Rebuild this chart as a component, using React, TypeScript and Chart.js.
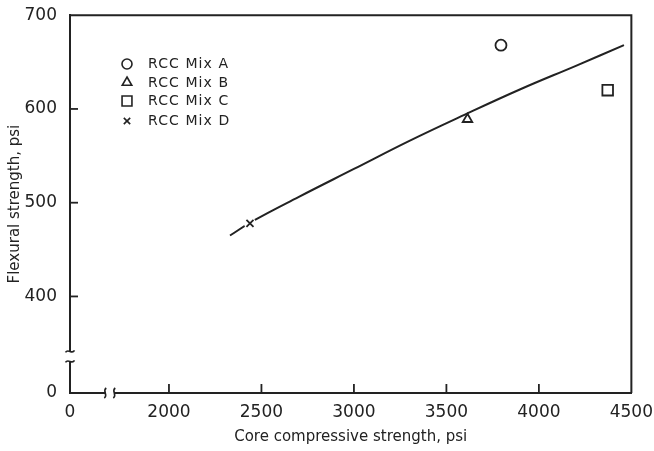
import React, { useEffect, useRef } from 'react';
import { Chart, registerables } from 'chart.js';

Chart.register(...registerables);

// ---- axis data ----
const X_MIN = 1465; // position labelled "0" after the axis break
const X_MAX = 4500;
const Y_MIN = 297; // position labelled "0" after the axis break
const Y_MAX = 700;
const xTickValues = [1465, 2000, 2500, 3000, 3500, 4000, 4500];
const yTickValues = [297, 400, 500, 600, 700];
const X_BREAK = 1680;
const Y_BREAK = 336;

// ---- series data ----
const mixLabels = ['RCC Mix A', 'RCC Mix B', 'RCC Mix C', 'RCC Mix D'];
const mixStyles = ['circle', 'triangle', 'rect', 'crossRot'];
const mixX = [3795, 3614, 4372, 2438];
const mixY = [668, 589, 620, 478];

const curveX = [2330, 2450, 2700, 3000, 3300, 3600, 3900, 4200, 4460];
const curveY = [465, 480, 506, 536, 566, 594, 621, 646, 668];

const INK = '#222222';
const FONT = 'DejaVu Sans';
const markerRadius: Record<string, number> = { circle: 5.5, triangle: 5.5, rect: 7.5, crossRot: 5 };

function drawMarker(ctx: CanvasRenderingContext2D, style: string, x: number, y: number, r: number) {
  ctx.beginPath();
  if (style === 'circle') {
    ctx.arc(x, y, r, 0, Math.PI * 2);
  } else if (style === 'triangle') {
    ctx.moveTo(x, y - r);
    ctx.lineTo(x + r * 0.866, y + r * 0.5);
    ctx.lineTo(x - r * 0.866, y + r * 0.5);
    ctx.closePath();
  } else if (style === 'rect') {
    const s = r * Math.SQRT1_2;
    ctx.rect(x - s, y - s, 2 * s, 2 * s);
  } else {
    const s = r * Math.SQRT1_2;
    ctx.moveTo(x - s, y - s);
    ctx.lineTo(x + s, y + s);
    ctx.moveTo(x + s, y - s);
    ctx.lineTo(x - s, y + s);
  }
  ctx.stroke();
}

const decorPlugin = {
  id: 'decor',
  afterDraw(chart: any) {
    const { ctx, chartArea: a, scales } = chart;
    const xs = scales.x;
    const ys = scales.y;
    ctx.save();
    ctx.strokeStyle = INK;
    ctx.lineCap = 'butt';
    // frame top & right
    ctx.lineWidth = 2;
    ctx.beginPath();
    ctx.moveTo(a.left, a.top);
    ctx.lineTo(a.right, a.top);
    ctx.lineTo(a.right, a.bottom);
    ctx.stroke();
    // inward tick marks
    ctx.lineWidth = 1.8;
    xs.ticks.forEach((t: any) => {
      if (t.value === X_MIN || t.value === X_MAX) return;
      const px = xs.getPixelForValue(t.value);
      ctx.beginPath();
      ctx.moveTo(px, a.bottom);
      ctx.lineTo(px, a.bottom - 9);
      ctx.stroke();
    });
    ys.ticks.forEach((t: any) => {
      if (t.value === Y_MIN || t.value === Y_MAX) return;
      const py = ys.getPixelForValue(t.value);
      ctx.beginPath();
      ctx.moveTo(a.left, py);
      ctx.lineTo(a.left + 8, py);
      ctx.stroke();
    });
    // axis breaks
    ctx.fillStyle = '#ffffff';
    const bx = xs.getPixelForValue(X_BREAK);
    ctx.fillRect(bx - 4.5, a.bottom - 3, 9, 6);
    const by = ys.getPixelForValue(Y_BREAK);
    ctx.fillRect(a.left - 3, by - 5, 6, 10);
    ctx.lineWidth = 1.6;
    [bx - 4.5, bx + 4.5].forEach((cx) => {
      const cy = a.bottom;
      ctx.beginPath();
      ctx.moveTo(cx - 1, cy + 5);
      ctx.bezierCurveTo(cx + 3.5, cy + 2, cx - 3.5, cy - 2, cx + 1, cy - 5);
      ctx.stroke();
    });
    [by - 5, by + 5].forEach((cy) => {
      const cx = a.left;
      ctx.beginPath();
      ctx.moveTo(cx - 4.5, cy + 1);
      ctx.bezierCurveTo(cx - 2, cy - 3.5, cx + 2, cy + 3.5, cx + 4.5, cy - 1);
      ctx.stroke();
    });
    // legend inside the plot
    const rows = [64, 82.5, 101, 121];
    const legendR: Record<string, number> = { circle: 5, triangle: 5.5, rect: 7, crossRot: 4.5 };
    ctx.font = `14px "${FONT}"`;
    (ctx as any).letterSpacing = '1.1px';
    ctx.textBaseline = 'middle';
    ctx.textAlign = 'left';
    ctx.fillStyle = INK;
    ctx.lineWidth = 1.6;
    mixLabels.forEach((lab, i) => {
      drawMarker(ctx, mixStyles[i], 127, rows[i], legendR[mixStyles[i]]);
      ctx.fillText(lab, 148, rows[i] + 0.5);
    });
    (ctx as any).letterSpacing = '0px';
    ctx.restore();
  },
};

export default function App() {
  const ref = useRef<HTMLCanvasElement | null>(null);

  useEffect(() => {
    if (!ref.current) return;
    const curve = curveX.map((x, i) => ({ x, y: curveY[i] }));
    const datasets: any[] = [
      {
        label: 'Fitted curve',
        data: curve,
        showLine: true,
        tension: 0.4,
        borderColor: INK,
        borderWidth: 2,
        pointRadius: 0,
        order: 5,
      },
      {
        label: 'gap',
        data: [{ x: mixX[3], y: mixY[3] }],
        pointStyle: 'circle',
        pointRadius: 6,
        pointBackgroundColor: '#ffffff',
        pointBorderColor: '#ffffff',
        pointBorderWidth: 0,
        order: 4,
      },
    ];
    mixLabels.forEach((lab, i) => {
      datasets.push({
        label: lab,
        data: [{ x: mixX[i], y: mixY[i] }],
        pointStyle: mixStyles[i],
        pointRadius: markerRadius[mixStyles[i]],
        pointBackgroundColor: '#ffffff',
        pointBorderColor: INK,
        pointBorderWidth: 1.8,
        order: 1,
      });
    });

    const tickFont = { family: FONT, size: 17 };
    const titleFont = { family: FONT, size: 15 };

    const chart = new Chart(ref.current, {
      type: 'scatter',
      data: { datasets },
      plugins: [decorPlugin],
      options: {
        animation: false,
        responsive: false,
        layout: { padding: { left: 0, top: 14, right: 22, bottom: 0 } },
        plugins: {
          legend: { display: false },
          tooltip: { enabled: false },
        },
        scales: {
          x: {
            type: 'linear',
            min: X_MIN,
            max: X_MAX,
            afterBuildTicks: (s: any) => {
              s.ticks = xTickValues.map((v) => ({ value: v }));
            },
            afterFit: (s: any) => {
              s.height = 58;
            },
            grid: { display: false },
            border: { display: true, color: INK, width: 2 },
            ticks: {
              autoSkip: false,
              maxRotation: 0,
              padding: 1,
              color: INK,
              font: tickFont,
              callback: (v: any) => (v === X_MIN ? '0' : String(v)),
            },
            title: {
              display: true,
              text: 'Core compressive strength, psi',
              color: INK,
              font: titleFont,
              padding: { top: 0, bottom: 4.5 },
            },
          },
          y: {
            type: 'linear',
            min: Y_MIN,
            max: Y_MAX,
            afterBuildTicks: (s: any) => {
              s.ticks = yTickValues.map((v) => ({ value: v }));
            },
            afterFit: (s: any) => {
              s.width = 70;
            },
            grid: { display: false },
            border: { display: true, color: INK, width: 2 },
            ticks: {
              autoSkip: false,
              padding: 5,
              color: INK,
              font: tickFont,
              callback: (v: any) => (v === Y_MIN ? '0' : String(v)),
            },
            title: {
              display: true,
              text: 'Flexural strength, psi',
              color: INK,
              font: titleFont,
              padding: { top: 6, bottom: 0 },
            },
          },
        },
      } as any,
    });
    return () => chart.destroy();
  }, []);

  return (
    <div style={{ position: 'fixed', left: 0, top: 0, width: 654, height: 451, background: '#fff' }}>
      <canvas ref={ref} width={654} height={451} style={{ width: 654, height: 451, display: 'block' }} />
    </div>
  );
}
